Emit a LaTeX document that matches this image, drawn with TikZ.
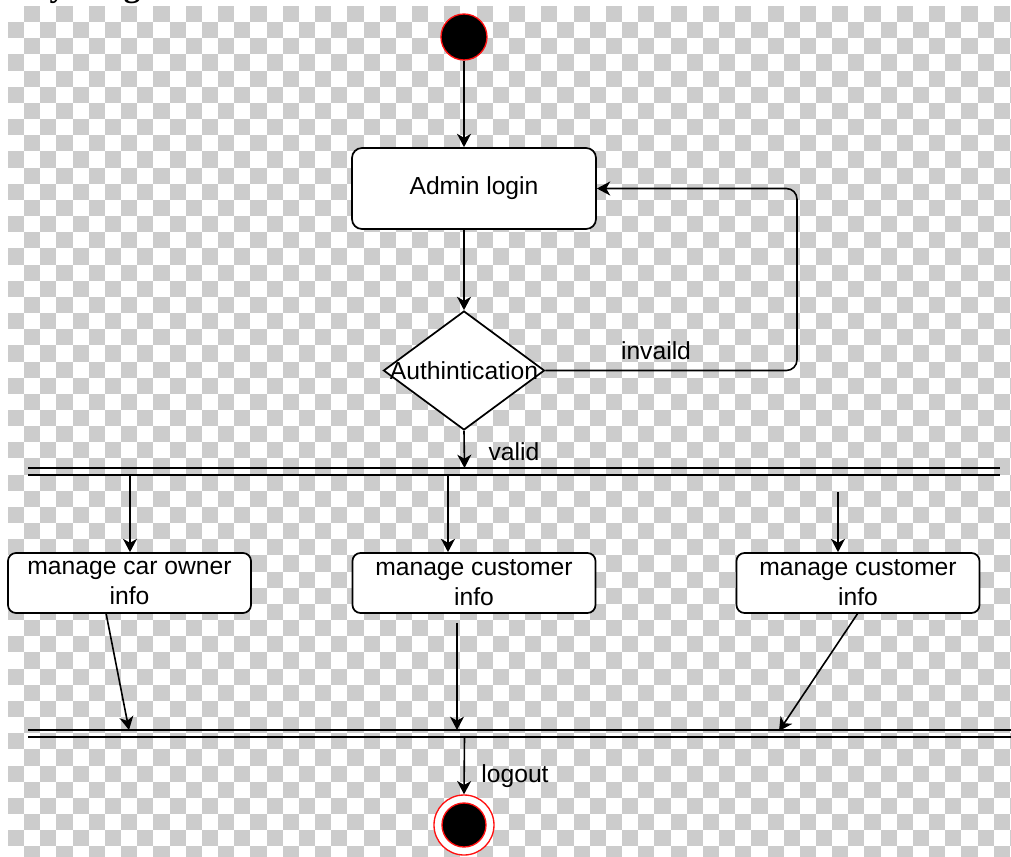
\documentclass[tikz,border=0pt]{standalone}
\usepackage{fontspec}
\setmainfont{Liberation Sans}
\newfontfamily\titlefont{Liberation Serif}
\usetikzlibrary{arrows.meta,shapes.geometric}
\definecolor{checkgray}{HTML}{CCCCCC}
\definecolor{ringred}{HTML}{FF1010}

\begin{document}
\begin{tikzpicture}[x=0.75pt,y=-0.75pt,
  every node/.style={font=\fontsize{18.5}{22.5}\selectfont, inner sep=0pt, text=black},
  actbig/.style={draw=black, fill=white, line width=1.3pt, rounded corners=7.5pt,
    minimum width=183pt, minimum height=60.75pt, align=center},
  actbox/.style={draw=black, fill=white, line width=1.3pt, rounded corners=6pt,
    minimum width=182.25pt, minimum height=45pt, align=center},
  decision/.style={diamond, draw=black, fill=white, line width=1.3pt,
    minimum width=120.75pt, minimum height=89.25pt},
  conn/.style={draw=black, line width=1.2pt, -{Stealth[length=10pt,width=10.5pt,inset=3pt]}},
  barline/.style={draw=black, line width=1.4pt},
  startdot/.style={circle, fill=black, draw=ringred, line width=1pt, minimum size=34.5pt},
  endring/.style={circle, fill=white, draw=ringred, line width=1pt, minimum size=45pt},
  enddot/.style={circle, fill=black, draw=ringred, line width=1pt, minimum size=33pt},
  guard/.style={font=\fontsize{18.5}{22.5}\selectfont}
]
\useasboundingbox (0,0) rectangle (1011,857);

% transparency checkerboard
\begin{scope}
  \clip (8,6) rectangle (1011,857);
  \foreach \j in {0,...,52}{
    \foreach \i in {0,...,62}{
      \pgfmathtruncatemacro\odd{mod(\i+\j,2)}
      \ifnum\odd=1
        \fill[checkgray] ({8+\i*16.16},{6+\j*16.16}) rectangle +(16.16,16.16);
      \fi
    }
  }
\end{scope}

% heading, cut at the top edge
\begin{scope}
  \clip (0,0) rectangle (1011,857);
  \node[anchor=base west, font=\titlefont\bfseries\fontsize{24.75}{30}\selectfont]
    (title) at (-46,-4) {Activity Diagram};
\end{scope}

% nodes
\node[startdot] (start) at (464,37) {};
\node[actbig] (login) at (474,188.5) {Admin login};
\node[decision, label={[font=\fontsize{18.5}{22.5}\selectfont]center:Authintication}] (dec) at (464,370.5) {};

\node[actbox] (b1) at (129.5,583) {manage car owner\\info};
\node[actbox] (b2) at (474,583) {manage customer\\info};
\node[actbox] (b3) at (858,583) {manage customer\\info};

\node[endring] (endn) at (464,825) {};
\node[enddot] (endc) at (464,825) {};

% fork and join bars
\draw[barline] (28,468) -- (1000,468);
\draw[barline] (28,475) -- (1000,475);
\draw[barline] (28,730) -- (1011,730);
\draw[barline] (28,737) -- (1011,737);

\coordinate (forkin) at (464.5,468);
\coordinate (f1) at (130,475);
\coordinate (f2) at (448,475);
\coordinate (f3) at (838,492);
\coordinate (s1) at (106,613);
\coordinate (s3) at (858,613);
\coordinate (j1) at (129,730);
\coordinate (j2) at (457,730);
\coordinate (j3) at (779,731);
\coordinate (joinout) at (464.5,737);
\coordinate (loopA) at (797,370.5);
\coordinate (loopB) at (797,188.5);

% connectors
\draw[conn] (start.south) -- (start.south |- login.north);
\draw[conn] (login.south -| dec.north) -- (dec.north);
\draw[conn, rounded corners=8pt] (dec.east) -- (loopA) -- (loopB) -- (login.east);
\draw[conn] (dec.south) -- (forkin);

\draw[conn] (f1) -- (f1 |- b1.north);
\draw[conn] (f2) -- (f2 |- b2.north);
\draw[conn] (f3) -- (f3 |- b3.north);

\draw[conn] (s1) -- (j1);
\draw[conn, shorten <=6.75pt] (j2 |- b2.south) -- (j2);
\draw[conn] (s3) -- (j3);

\draw[conn] (joinout) -- (endn.north);

% guard labels
\node[guard] (lblinv) at (656,351) {invaild};
\node[guard] (lblval) at (514,452) {valid};
\node[guard] (lbllog) at (515,776) {logout};
\end{tikzpicture}
\end{document}
